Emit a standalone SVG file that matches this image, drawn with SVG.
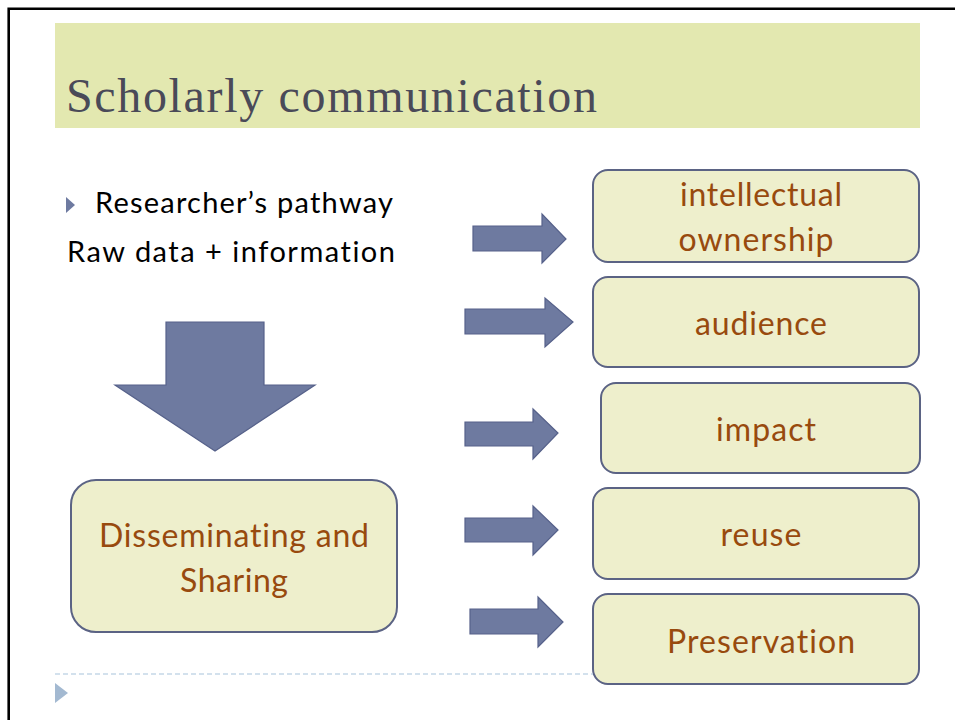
<svg xmlns="http://www.w3.org/2000/svg" width="955" height="720" viewBox="0 0 955 720">
<defs>
<style>
.box{fill:#eeefcc;stroke:#5b6384;stroke-width:2}
.arr{fill:#6e7aa0;stroke:#56618a;stroke-width:1.2;stroke-linejoin:miter}
.lbl{font-family:"Lato","Liberation Sans",sans-serif;font-size:32px;fill:#984a0e;text-anchor:middle;font-variant-ligatures:none}
.body{font-family:"Lato","Liberation Sans",sans-serif;font-size:29px;fill:#000;font-variant-ligatures:none}
</style>
</defs>
<rect width="955" height="720" fill="#fff"/>
<path d="M8.7 720 V8.7 H955" fill="none" stroke="#000" stroke-width="2.6"/>
<rect x="55" y="23" width="865" height="105" fill="#e3e8b0"/>
<text x="66" y="112" font-family="'Liberation Serif',serif" font-size="48" fill="#4a4a58" textLength="531">Scholarly communication</text>

<g id="bullet-text">
<path d="M66 197 L75 205 L66 213 Z" fill="#6e7aa0"/>
<text class="body" x="95" y="213" textLength="298">Researcher’s pathway</text>
<text class="body" x="67" y="262" textLength="328">Raw data + information</text>
</g>

<g id="down-arrow">
<path class="arr" d="M166 322 H264 V385 H315 L215 451 L115 385 H166 Z"/>
</g>

<g id="node-disseminating">
<rect class="box" x="71" y="480" width="326" height="152" rx="25"/>
<text class="lbl" x="234" y="547" textLength="270">Disseminating and</text>
<text class="lbl" x="234" y="592" textLength="108">Sharing</text>
</g>

<g id="node-ownership">
<rect class="box" x="593" y="170" width="326" height="92" rx="15"/>
<text class="lbl" x="761" y="206" textLength="162">intellectual</text>
<text class="lbl" x="756" y="251" textLength="155">ownership</text>
</g>
<g id="node-audience">
<rect class="box" x="593" y="277" width="326" height="90" rx="15"/>
<text class="lbl" x="761" y="335" textLength="132">audience</text>
</g>
<g id="node-impact">
<rect class="box" x="601" y="383" width="319" height="90" rx="15"/>
<text class="lbl" x="766" y="441" textLength="100">impact</text>
</g>
<g id="node-reuse">
<rect class="box" x="593" y="488" width="326" height="91" rx="15"/>
<text class="lbl" x="761" y="546" textLength="81">reuse</text>
</g>
<g id="node-preservation">
<rect class="box" x="593" y="594" width="326" height="90" rx="15"/>
<text class="lbl" x="761" y="653" textLength="188">Preservation</text>
</g>

<g id="connectors">
<path class="arr" d="M473 226 H542 V214 L566 239 L542 263 V251 H473 Z"/>
<path class="arr" d="M465 309 H545 V298 L573 322 L545 347 V334 H465 Z"/>
<path class="arr" d="M465 422 H533 V409 L558 433 L533 459 V446 H465 Z"/>
<path class="arr" d="M465 518 H533 V506 L558 530 L533 555 V542 H465 Z"/>
<path class="arr" d="M470 609 H538 V597 L563 622 L538 647 V634 H470 Z"/>
</g>

<line x1="55" y1="674" x2="593" y2="674" stroke="#a8c4dc" stroke-width="1.2" stroke-dasharray="5 3"/>
<path d="M55 683 L68 693 L55 703 Z" fill="#a3b9d1"/>
</svg>
